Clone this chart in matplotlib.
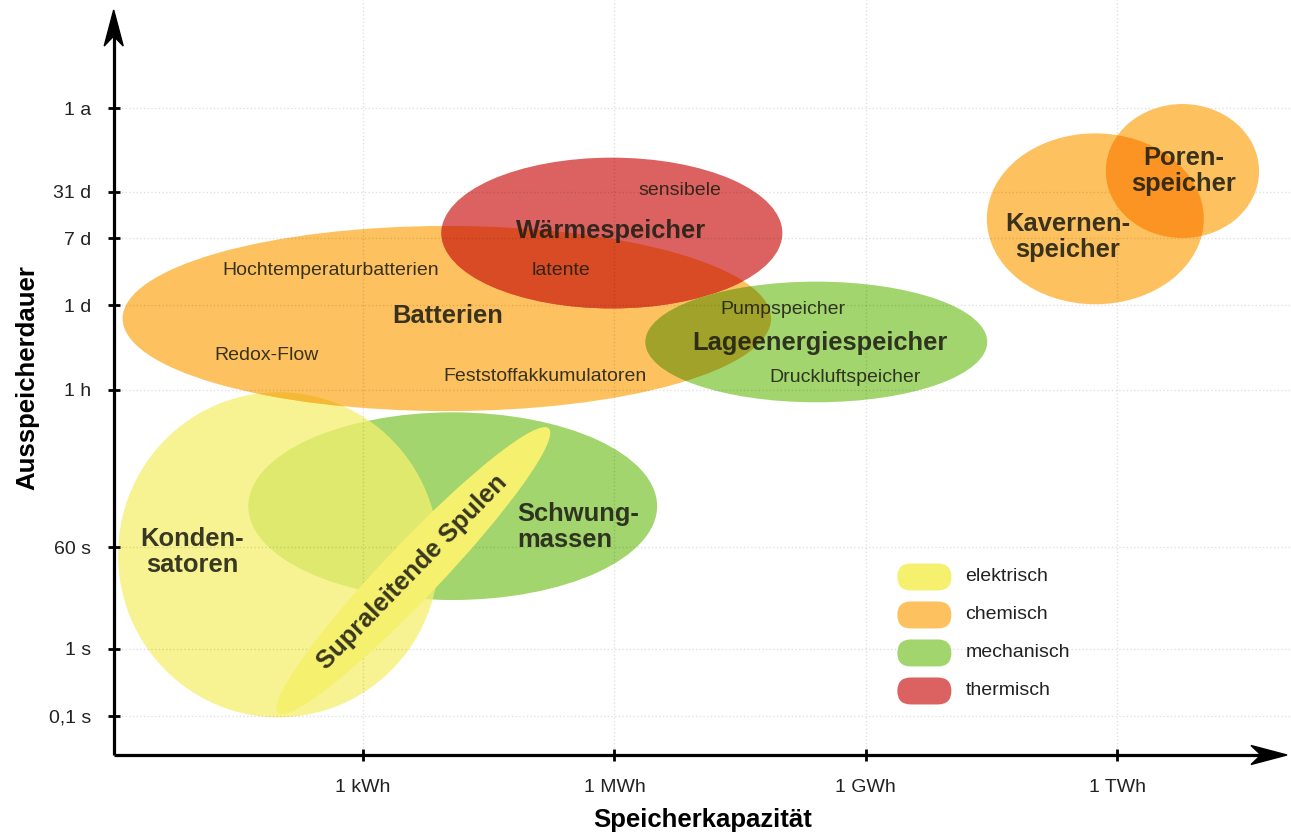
import numpy as np
import matplotlib.pyplot as plt
from matplotlib.patches import Ellipse, FancyBboxPatch, Polygon
from matplotlib.colors import to_rgb

plt.rcParams['font.family'] = ['Liberation Sans', 'DejaVu Sans']

# x: log10 of capacity in Wh, y: position on the (non-uniform) duration axis
cap_ticks = [3, 6, 9, 12]
cap_labels = ['1 kWh', '1 MWh', '1 GWh', '1 TWh']
dur_ticks = [0.47, 1.27, 2.48, 4.36, 5.37, 6.17, 6.72, 7.72]
dur_labels = ['0,1 s', '1 s', '60 s', '1 h', '1 d', '7 d', '31 d', '1 a']

groups = ['elektrisch', 'chemisch', 'mechanisch', 'thermisch']
group_colors = ['#f5f06e', '#fdc25f', '#a2d56e', '#db6260']

# storage technologies (drawn in this order)
stores = ['Schwungmassen', 'Kondensatoren', 'Batterien', 'Wärmespeicher',
          'Lageenergiespeicher', 'Kavernenspeicher', 'Porenspeicher',
          'Supraleitende Spulen']
store_group = ['mechanisch', 'elektrisch', 'chemisch', 'thermisch',
               'mechanisch', 'chemisch', 'chemisch', 'elektrisch']
cap_center = [4.07, 1.99, 4.00, 5.97, 8.41, 11.74, 12.78, 3.60]
dur_center = [2.97, 2.39, 5.21, 6.23, 4.93, 6.40, 6.97, 2.20]
cap_span = [4.88, 3.83, 7.74, 4.07, 4.08, 2.59, 1.83, 4.69]
dur_span = [2.24, 3.88, 2.21, 1.80, 1.44, 2.04, 1.60, 0.67]
tilt = [0, 0, 0, 0, 0, 0, 0, 46.4]
opacity = [1, 0.75, 1, 1, 1, 1, 1, 1]

# overlaps that darken like a multiply blend (lower, upper)
overlaps = [('Kondensatoren', 'Batterien'), ('Schwungmassen', 'Batterien'),
            ('Batterien', 'Wärmespeicher'), ('Batterien', 'Lageenergiespeicher'),
            ('Kavernenspeicher', 'Porenspeicher')]

main_labels = ['Batterien', 'Wärmespeicher', 'Lageenergiespeicher',
               'Kavernen-\nspeicher', 'Poren-\nspeicher', 'Konden-\nsatoren',
               'Schwung-\nmassen', 'Supraleitende Spulen']
main_x = [4.01, 5.96, 8.45, 11.41, 12.80, 0.96, 4.84, 3.59]
main_y = [5.24, 6.25, 4.92, 6.18, 6.97, 2.42, 2.72, 2.18]
main_ha = ['center', 'center', 'center', 'center', 'center', 'center', 'left', 'center']
main_rot = [0, 0, 0, 0, 0, 0, 0, 45.8]

sub_labels = ['sensibele', 'latente', 'Hochtemperaturbatterien', 'Redox-Flow',
              'Feststoffakkumulatoren', 'Pumpspeicher', 'Druckluftspeicher']
sub_x = [6.78, 5.36, 2.61, 1.85, 5.17, 8.01, 8.75]
sub_y = [6.74, 5.78, 5.78, 4.77, 4.52, 5.32, 4.50]

W, H, DPI = 1291, 833, 100
PX = 83.78  # pixels per data unit (same on both axes)
x0_px, y0_px = 113.7, 755.0  # axis origin in the picture
xmin = (x0_px - 111.7) / PX

fig = plt.figure(figsize=(W / DPI, H / DPI), dpi=DPI)
ax = fig.add_axes([x0_px / W, (H - y0_px) / H, (W - x0_px) / W, y0_px / H])
ax.set_xlim(xmin, xmin + (W - x0_px) / PX)
ax.set_ylim(0, y0_px / PX)
for s in ax.spines.values():
    s.set_visible(False)


def seen(i):
    c = np.array(to_rgb(group_colors[groups.index(store_group[i])]))
    return 1 - opacity[i] * (1 - c)


def ell(i, **kw):
    return Ellipse((cap_center[i], dur_center[i]), cap_span[i], dur_span[i],
                   angle=tilt[i], **kw)


for i, name in enumerate(stores):
    c = group_colors[groups.index(store_group[i])]
    ax.add_patch(ell(i, facecolor=c, alpha=opacity[i], edgecolor='none',
                     zorder=1 + 0.1 * i))

for lo, up in overlaps:
    i, j = stores.index(lo), stores.index(up)
    p = ell(j, facecolor=seen(i) * seen(j), edgecolor='none', zorder=1.05 + 0.1 * j)
    ax.add_patch(p)
    clip = ell(i)
    clip.set_transform(ax.transData)
    p.set_clip_path(clip)

# grid
ax.set_xticks(cap_ticks)
ax.set_xticklabels(cap_labels)
ax.set_yticks(dur_ticks)
ax.set_yticklabels(dur_labels)
ax.grid(True, linestyle=':', color='black', alpha=0.12, linewidth=1)
ax.tick_params(direction='inout', length=8, width=2, labelsize=14,
               labelcolor='#222222', color='black')
ax.tick_params(axis='x', pad=13)
ax.tick_params(axis='y', pad=12)

ax.set_xlabel('Speicherkapazität', fontsize=18.5, fontweight='bold', labelpad=9)
ax.set_ylabel('Ausspeicherdauer', fontsize=18.5, fontweight='bold', labelpad=7)

# text labels
for t, x, y, ha, r in zip(main_labels, main_x, main_y, main_ha, main_rot):
    ax.text(x, y, t, fontsize=18.4, fontweight='bold', ha=ha, va='center',
            rotation=r, rotation_mode='anchor', color='#1e1e14', alpha=0.88,
            linespacing=1.12, multialignment='center' if ha == 'center' else 'left',
            zorder=3)
for t, x, y in zip(sub_labels, sub_x, sub_y):
    ax.text(x, y, t, fontsize=14, ha='center', va='center', color='#1e1e14',
            alpha=0.88, zorder=3)

# legend with rounded swatches
leg_x, leg_y, leg_step = 9.70, 2.125, 0.4536
sw_w, sw_h = 0.645, 0.322
for k, (g, c) in enumerate(zip(groups, group_colors)):
    y = leg_y - k * leg_step
    ax.add_patch(FancyBboxPatch((leg_x - sw_w / 2, y - sw_h / 2), sw_w, sw_h,
                                boxstyle=f'round,pad=0,rounding_size={sw_h / 2}',
                                facecolor=c, edgecolor='none', zorder=3))
    ax.text(leg_x + 0.49, y, g, fontsize=14, va='center', ha='left',
            color='#222222', zorder=3)

# axes with arrow heads
x_lo, x_hi = ax.get_xlim()
y_lo, y_hi = ax.get_ylim()
tip_x = (1287 - 111.7) / PX
tip_y = (y0_px - 10) / PX
hl, hw, notch = 36 / PX, 9.5 / PX, 26 / PX
ax.plot([x_lo, tip_x - notch], [0, 0], color='black', lw=2.3, zorder=4,
        solid_capstyle='butt', clip_on=False)
ax.plot([x_lo, x_lo], [0, tip_y - notch], color='black', lw=2.3, zorder=4,
        solid_capstyle='butt', clip_on=False)
ax.add_patch(Polygon([[tip_x, 0], [tip_x - hl, hw], [tip_x - notch, 0],
                      [tip_x - hl, -hw]], closed=True, color='black',
                     zorder=4, clip_on=False))
ax.add_patch(Polygon([[x_lo, tip_y], [x_lo - hw, tip_y - hl], [x_lo, tip_y - notch],
                      [x_lo + hw, tip_y - hl]], closed=True, color='black',
                     zorder=4, clip_on=False))

fig.savefig('out.png', dpi=DPI)
